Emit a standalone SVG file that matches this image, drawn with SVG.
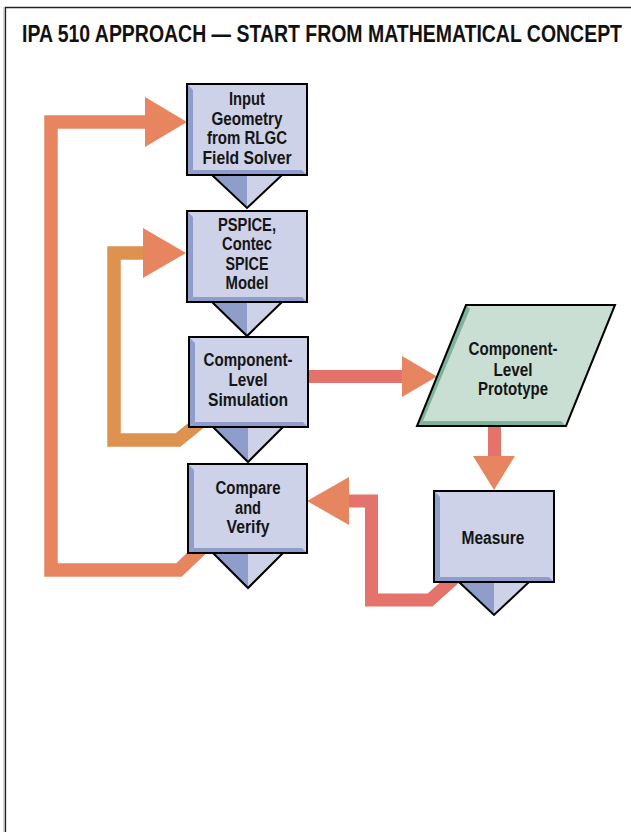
<svg xmlns="http://www.w3.org/2000/svg" width="631" height="832" viewBox="0 0 631 832">
<defs>
<style>
.t{font-family:"Liberation Sans",Arial,sans-serif;font-weight:bold;font-size:17.5px;fill:#151515;text-anchor:middle}
.title{font-family:"Liberation Sans",Arial,sans-serif;font-weight:bold;font-size:19px;fill:#111}
.box{fill:#cdd2e8;stroke:#000;stroke-width:2}
.dk{fill:#8f9dca}
.lt{fill:#cdd2e8}
.edge{fill:none;stroke:#000;stroke-width:2;stroke-linejoin:miter}
.loopA{fill:none;stroke:#e6855f;stroke-width:13.5;stroke-linejoin:miter}
.loopB{fill:none;stroke:#de9250;stroke-width:13.5;stroke-linejoin:miter}
.red{fill:none;stroke:#e3736b;stroke-width:13;stroke-linejoin:miter}
.head{fill:#e6855f}
</style>
</defs>
<rect width="631" height="832" fill="#fff"/>
<line x1="4" y1="7" x2="4" y2="832" stroke="#aaa" stroke-width="1"/>
<path d="M5.5 832 V7.5 H631" fill="none" stroke="#222" stroke-width="1.3"/>
<g transform="translate(22,42) scale(1,1.3)">
<text class="title" x="0" y="0" textLength="600" lengthAdjust="spacingAndGlyphs">IPA 510 APPROACH — START FROM MATHEMATICAL CONCEPT</text>
</g>

<g id="connectors">
<polyline class="loopA" points="202,548 179,570 51,570 51,122 147,122"/>
<polygon class="head" points="145,97 187,122 145,147"/>
<polyline class="loopB" points="199,423 178,440 114,440 114,253 146,253"/>
<polygon class="head" points="143,228 186,253 143,278"/>
<line class="red" x1="305" y1="376.5" x2="404" y2="376.5"/>
<polygon class="head" points="402,356 437,376.5 402,397"/>
<line class="red" x1="494.5" y1="420" x2="494.5" y2="458"/>
<polygon class="head" points="473,456 515,456 494,490"/>
<polyline class="red" points="458,575 430,600 371.5,600 371.5,501 348,501"/>
<polygon class="head" points="349,477 307,501 349,525"/>
</g>

<g id="node-input">
<polygon class="dk" points="212,175 247,175 247,208"/>
<polygon class="lt" points="247,175 282,175 247,208"/>
<polyline class="edge" points="212,175 247,208 282,175"/>
<rect class="box" x="187" y="84" width="120" height="91"/>
<polygon class="dk" points="188,85 193,90 193,170 188,174"/>
<polygon class="dk" points="188,174 193,170 302,170 306,174"/>
<text class="t" x="247" y="105" textLength="36" lengthAdjust="spacingAndGlyphs">Input</text>
<text class="t" x="247" y="124.5" textLength="71" lengthAdjust="spacingAndGlyphs">Geometry</text>
<text class="t" x="247" y="144" textLength="80" lengthAdjust="spacingAndGlyphs">from RLGC</text>
<text class="t" x="247" y="164" textLength="89" lengthAdjust="spacingAndGlyphs">Field Solver</text>
</g>

<g id="node-pspice">
<polygon class="dk" points="212,302 247,302 247,336"/>
<polygon class="lt" points="247,302 282,302 247,336"/>
<polyline class="edge" points="212,302 247,336 282,302"/>
<rect class="box" x="187" y="211" width="120" height="91"/>
<polygon class="dk" points="188,212 193,217 193,297 188,301"/>
<polygon class="dk" points="188,301 193,297 302,297 306,301"/>
<text class="t" x="247" y="230.5" textLength="58" lengthAdjust="spacingAndGlyphs">PSPICE,</text>
<text class="t" x="247" y="250" textLength="50" lengthAdjust="spacingAndGlyphs">Contec</text>
<text class="t" x="247" y="269.5" textLength="43" lengthAdjust="spacingAndGlyphs">SPICE</text>
<text class="t" x="247" y="289" textLength="43" lengthAdjust="spacingAndGlyphs">Model</text>
</g>

<g id="node-simulation">
<polygon class="dk" points="213,427 248,427 248,462"/>
<polygon class="lt" points="248,427 283,427 248,462"/>
<polyline class="edge" points="213,427 248,462 283,427"/>
<rect class="box" x="189" y="337" width="119" height="90"/>
<polygon class="dk" points="190,338 195,343 195,422 190,426"/>
<polygon class="dk" points="190,426 195,422 303,422 307,426"/>
<text class="t" x="248" y="366" textLength="89" lengthAdjust="spacingAndGlyphs">Component-</text>
<text class="t" x="248" y="386" textLength="39" lengthAdjust="spacingAndGlyphs">Level</text>
<text class="t" x="248" y="406" textLength="80" lengthAdjust="spacingAndGlyphs">Simulation</text>
</g>

<g id="node-compare">
<polygon class="dk" points="213,553 248,553 248,588"/>
<polygon class="lt" points="248,553 283,553 248,588"/>
<polyline class="edge" points="213,553 248,588 283,553"/>
<rect class="box" x="188" y="464" width="119" height="89"/>
<polygon class="dk" points="189,465 194,470 194,548 189,552"/>
<polygon class="dk" points="189,552 194,548 302,548 306,552"/>
<text class="t" x="248" y="494" textLength="65" lengthAdjust="spacingAndGlyphs">Compare</text>
<text class="t" x="248" y="514" textLength="26" lengthAdjust="spacingAndGlyphs">and</text>
<text class="t" x="248" y="533" textLength="43" lengthAdjust="spacingAndGlyphs">Verify</text>
</g>

<g id="node-prototype">
<polygon points="466,305 615,305 566,426 417,426" fill="#c9dfd3"/>
<polygon points="466,305 470,309 423,421 417,426" fill="#7db39a"/>
<polygon points="417,426 423,421 561,421 566,426" fill="#7db39a"/>
<polygon points="466,305 615,305 566,426 417,426" fill="none" stroke="#000" stroke-width="2"/>
<text class="t" x="513" y="355" textLength="89" lengthAdjust="spacingAndGlyphs">Component-</text>
<text class="t" x="513" y="376" textLength="39" lengthAdjust="spacingAndGlyphs">Level</text>
<text class="t" x="513" y="395" textLength="70" lengthAdjust="spacingAndGlyphs">Prototype</text>
</g>

<g id="node-measure">
<polygon class="dk" points="459,582 494,582 494,615"/>
<polygon class="lt" points="494,582 529,582 494,615"/>
<polyline class="edge" points="459,582 494,615 529,582"/>
<rect class="box" x="434" y="491" width="120" height="91"/>
<polygon class="dk" points="435,492 440,497 440,577 435,581"/>
<polygon class="dk" points="435,581 440,577 549,577 553,581"/>
<text class="t" x="493" y="544" textLength="63" lengthAdjust="spacingAndGlyphs">Measure</text>
</g>
</svg>
